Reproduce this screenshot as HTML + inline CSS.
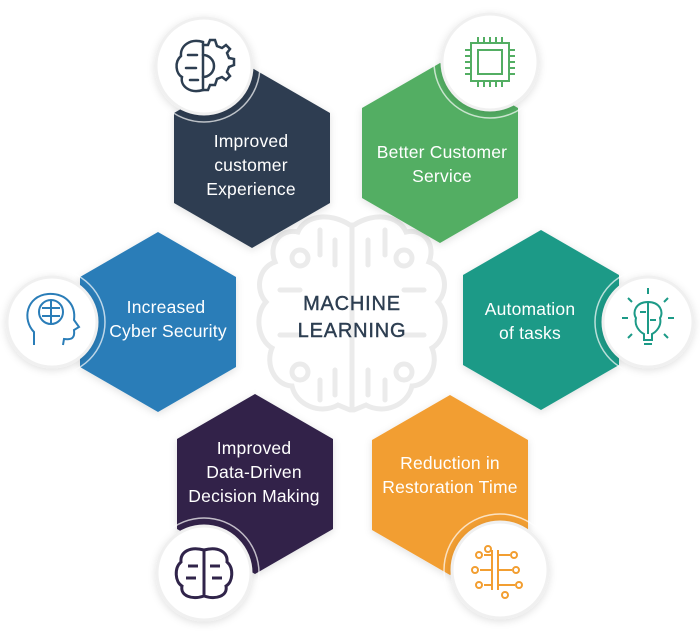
<!DOCTYPE html>
<html><head><meta charset="utf-8"><style>
html,body{margin:0;padding:0;background:#fff}
svg{display:block}
text{font-family:"Liberation Sans",sans-serif}
</style></head><body>
<svg width="700" height="641" viewBox="0 0 700 641" xmlns="http://www.w3.org/2000/svg">
<defs>
<filter id="sh" x="-20%" y="-20%" width="140%" height="140%"><feDropShadow dx="0" dy="2" stdDeviation="4" flood-color="#000" flood-opacity="0.12"/></filter>
</defs>
<g fill="none" stroke="#ebebeb" stroke-width="5" stroke-linecap="round">
<path d="M350 225 C330 212 305 215 298 232 C280 228 268 245 275 262 C258 268 255 290 266 302 C254 315 258 340 272 348 C265 365 275 385 292 386 C296 405 320 415 338 405 L350 410"/>
<path d="M354 225 C374 212 399 215 406 232 C424 228 436 245 429 262 C446 268 449 290 438 302 C450 315 446 340 432 348 C439 365 429 385 412 386 C408 405 384 415 366 405 L354 410"/>
<path d="M352 225 V410"/>
<path d="M320 230 V255 M335 240 V265 M385 230 V255 M368 240 V265"/>
<circle cx="300" cy="258" r="8"/><circle cx="404" cy="258" r="8"/>
<circle cx="300" cy="372" r="8"/><circle cx="404" cy="372" r="8"/>
<path d="M280 290 H300 M424 290 H404 M280 335 H300 M424 335 H404"/>
<path d="M320 380 V400 M385 380 V400 M335 370 V395 M368 370 V395"/>
</g>
<g filter="url(#sh)">
<polygon points="252,68 330,113 330,203 252,248 174,203 174,113" fill="#2d3e51"/>
<polygon points="440,63 518,108 518,198 440,243 362,198 362,108" fill="#53ae63"/>
<polygon points="158,232 236,277 236,367 158,412 80,367 80,277" fill="#2a7db8"/>
<polygon points="541,230 619,275 619,365 541,410 463,365 463,275" fill="#1c9a87"/>
<polygon points="255,394 333,439 333,529 255,574 177,529 177,439" fill="#30244a"/>
<polygon points="450,395 528,440 528,530 450,575 372,530 372,440" fill="#f29e31"/>
</g>
<g fill="#fff" font-size="17.5" text-anchor="middle" letter-spacing="0.2">
<text x="251" y="147">Improved</text>
<text x="251" y="171">customer</text>
<text x="251" y="195">Experience</text>
<text x="442" y="158">Better Customer</text>
<text x="442" y="182">Service</text>
<text x="166" y="313">Increased</text>
<text x="168" y="337">Cyber Security</text>
<text x="530" y="315">Automation</text>
<text x="530" y="339">of tasks</text>
<text x="254" y="454">Improved</text>
<text x="254" y="478">Data-Driven</text>
<text x="254" y="502">Decision Making</text>
<text x="450" y="469">Reduction in</text>
<text x="450" y="493">Restoration Time</text>
</g>
<g fill="#2d3e51" font-size="20" text-anchor="middle" letter-spacing="0.8" stroke="#2d3e51" stroke-width="0.4">
<text x="352" y="310">MACHINE</text>
<text x="352" y="337">LEARNING</text>
</g>
<g fill="none" stroke="#fff" stroke-opacity="0.7" stroke-width="1.5">
<circle cx="204" cy="66" r="56"/>
<circle cx="490" cy="62" r="56"/>
<circle cx="52" cy="322" r="53"/>
<circle cx="648" cy="322" r="53"/>
<circle cx="204" cy="573" r="55"/>
<circle cx="500" cy="570" r="56"/>
</g>
<g fill="#fff" stroke="#f0f0f0" stroke-width="3" filter="url(#sh)">
<circle cx="204" cy="66" r="48"/>
<circle cx="490" cy="62" r="48"/>
<circle cx="52" cy="322" r="45"/>
<circle cx="648" cy="322" r="45"/>
<circle cx="204" cy="573" r="47"/>
<circle cx="500" cy="570" r="48"/>
</g>
<g fill="none" stroke="#2d3e51" stroke-width="2.5" stroke-linecap="round">
<path d="M203 42 C190 38 180 46 181 56 C174 62 176 74 182 77 C180 86 190 94 203 90 Z"/>
<path d="M188 55 H197 M186 68 H196 M190 80 H198"/>
<path d="M203 45 H208 L210 40 H215 L217 46 L222 48 L226 45 L230 49 L227 53 L229 58 L234 59 V65 L229 67 L227 72 L230 76 L226 80 L222 77 L217 79 L215 85 H210 L208 90 H203"/>
<path d="M203 55 A10 10 0 0 1 203 77"/>
</g>
<g fill="none" stroke="#53ae63" stroke-width="2">
<rect x="471" y="43" width="38" height="38"/>
<rect x="478" y="50" width="24" height="24"/>
<path d="M478 37 V43 M484 37 V43 M490 37 V43 M496 37 V43 M502 37 V43 M478 81 V87 M484 81 V87 M490 81 V87 M496 81 V87 M502 81 V87 M465 50 H471 M465 56 H471 M465 62 H471 M465 68 H471 M465 74 H471 M509 50 H515 M509 56 H515 M509 62 H515 M509 68 H515 M509 74 H515"/>
</g>
<g fill="none" stroke="#2a7db8" stroke-width="2">
<path d="M34 345 V332 C22 320 26 296 48 294 C66 293 76 305 74 320 L79 327 L74 330 C75 338 72 340 64 339 L63 345"/>
<circle cx="51" cy="312" r="12"/>
<path d="M51 300 V324 M42 308 H60 M42 316 H60"/>
</g>
<g fill="none" stroke="#1c9a87" stroke-width="2">
<path d="M648 302 C636 302 632 312 636 318 C634 326 640 332 644 334 V340 H652 V334 C656 332 662 326 660 318 C664 312 660 302 648 302 Z"/>
<path d="M648 302 V334 M640 312 H646 M650 320 H656 M644 344 H652"/>
<path d="M648 288 V294 M628 318 H622 M668 318 H674 M632 302 L628 298 M664 302 L668 298 M632 334 L628 338 M664 334 L668 338"/>
</g>
<g fill="none" stroke="#30244a" stroke-width="3">
<path d="M204 550 C190 546 180 552 181 562 C174 568 175 582 182 586 C180 596 192 600 204 596 Z"/>
<path d="M204 550 C218 546 228 552 227 562 C234 568 233 582 226 586 C228 596 216 600 204 596 Z"/>
<path d="M204 550 V596 M188 566 H198 M186 578 H196 M210 566 H220 M212 578 H222"/>
</g>
<g fill="none" stroke="#f29e31" stroke-width="2">
<path d="M492 550 V590 M498 550 V590 M484 555 H492 M480 570 H492 M484 585 H492 M498 555 H510 M498 570 H512 M498 585 H515"/>
<circle cx="479" cy="555" r="3"/><circle cx="475" cy="570" r="3"/><circle cx="479" cy="585" r="3"/>
<circle cx="514" cy="555" r="3"/><circle cx="516" cy="570" r="3"/><circle cx="519" cy="585" r="3"/>
<circle cx="488" cy="549" r="3"/><circle cx="505" cy="595" r="3"/>
</g>
</svg>
</body></html>
